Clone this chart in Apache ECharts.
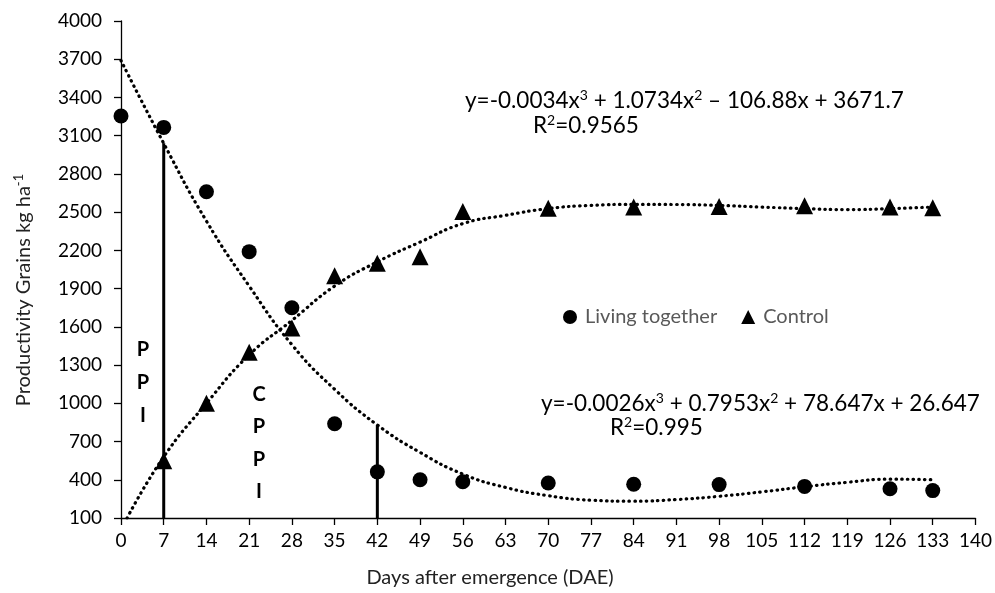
<!DOCTYPE html>
<html><head><meta charset="utf-8">
<script src="https://cdn.jsdelivr.net/npm/echarts@6/dist/echarts.min.js"></script>
<style>html,body{margin:0;padding:0;background:#fff}#c{width:995px;height:593px}</style>
</head><body><div id="c"></div>
<script>
// ---- data ----
const livingDays = [0,7,14,21,28,35,42,49,56,70,84,98,112,126,133];
const livingTogether = [3255,3165,2660,2190,1750,840,462,400,385,375,365,362,348,330,315];
const controlDays = [7,14,21,28,35,42,49,56,70,84,98,112,126,133];
const control = [550,1000,1400,1590,2000,2100,2150,2505,2530,2540,2545,2550,2540,2535];
// dotted trend curves
const trendLivingDays = [0,7,14,21,28,35,42,49,56,63,70,77,84,91,98,105,112,119,126,133];
const trendLiving = [3690,3040,2430,1920,1460,1110,830,615,445,340,275,240,232,245,270,305,345,380,405,400];
const trendControlDays = [1,7,14,21,28,35,42,49,56,63,70,77,84,91,98,105,112,119,126,133];
const trendControl = [100,580,1000,1380,1650,1920,2110,2265,2410,2475,2528,2553,2561,2560,2553,2540,2528,2520,2528,2540];
// PPI / CPPI limit lines
const ppiLineDays = [7,7];
const ppiLineVals = [100,3040];
const cppiLineDays = [42,42];
const cppiLineVals = [100,830];
// axes
const xMin = 0, xMax = 140, xStep = 7;
const yTicks = [100,400,700,1000,1300,1600,1900,2200,2500,2800,3100,3400,3700,4000];
const legendNames = ['Living together','Control'];

const zip = (a,b) => a.map((v,i)=>[v,b[i]]);
const FONT = 'Lato, "Open Sans", sans-serif';
const chart = echarts.init(document.getElementById('c'), null, {renderer:'canvas'});

const dotted = {color:'#000', width:3.2, type:[0.5,5.2], cap:'round'};
const supRich = (c) => ({s:{fontSize:14, fontFamily:FONT, fill:c, padding:[0,0,11,0]}});
const txt = (x,y,text,font,extra) => ({type:'text', x:x, y:y,
  style:Object.assign({text:text, font:font, fill:'#000', align:'left', verticalAlign:'middle',
    textAlign:'left', textVerticalAlign:'middle', rich:supRich('#000')}, extra||{})});

chart.setOption({
  animation:false,
  backgroundColor:'#fff',
  textStyle:{fontFamily:FONT},
  grid:{left:121, right:18, top:21, bottom:75, containLabel:false},
  legend:{
    left:558, top:302, itemGap:24, itemWidth:14, itemHeight:14,
    textStyle:{color:'#595959', fontSize:20, fontFamily:FONT, padding:[0,0,0,3]},
    data:[{name:legendNames[0], icon:'circle'},{name:legendNames[1], icon:'triangle'}]
  },
  xAxis:{
    type:'value', min:xMin, max:xMax, interval:xStep,
    axisLine:{lineStyle:{color:'#000', width:1.3}},
    axisTick:{show:true, length:7, lineStyle:{color:'#000', width:1.3}},
    axisLabel:{color:'#000', fontSize:19, fontFamily:FONT, margin:13},
    splitLine:{show:false}
  },
  yAxis:{
    type:'value', min:yTicks[0], max:yTicks[yTicks.length-1],
    axisLine:{show:true, lineStyle:{color:'#000', width:1.3}},
    axisTick:{show:true, length:7, customValues:yTicks, lineStyle:{color:'#000', width:1.3}},
    axisLabel:{color:'#000', fontSize:19, fontFamily:FONT, margin:19, customValues:yTicks,
      formatter:(v)=>String(v)},
    splitLine:{show:false}
  },
  graphic:[
    {type:'text', x:24, y:290, rotation:Math.PI/2,
     style:{text:'Productivity Grains kg ha{s|-1}', font:'20px '+FONT, fill:'#222',
       align:'center', verticalAlign:'middle', textAlign:'center', textVerticalAlign:'middle',
       rich:{s:{fontSize:13, fontFamily:FONT, fill:'#222', padding:[0,0,10,0]}}}},
    {type:'text', x:490, y:578,
     style:{text:'Days after emergence (DAE)', font:'20px '+FONT, fill:'#222',
       align:'center', verticalAlign:'middle', textAlign:'center', textVerticalAlign:'middle'}},
    txt(465, 101, 'y=-0.0034x{s|3} + 1.0734x{s|2} \u2013 106.88x + 3671.7', '22.5px '+FONT),
    txt(533, 126, 'R{s|2}=0.9565', '22.5px '+FONT),
    txt(541, 404, 'y=-0.0026x{s|3} + 0.7953x{s|2} + 78.647x + 26.647', '22.5px '+FONT),
    txt(610, 428, 'R{s|2}=0.995', '22.5px '+FONT),
    {type:'text', x:143, y:383,
     style:{text:'P\nP\nI', font:'bold 20px '+FONT, fill:'#000', lineHeight:33,
       align:'center', verticalAlign:'middle', textAlign:'center', textVerticalAlign:'middle'}},
    {type:'text', x:259, y:443,
     style:{text:'C\nP\nP\nI', font:'bold 20px '+FONT, fill:'#000', lineHeight:32.2,
       align:'center', verticalAlign:'middle', textAlign:'center', textVerticalAlign:'middle'}}
  ],
  series:[
    {name:'trendLiving', type:'line', data:zip(trendLivingDays, trendLiving), smooth:0.5,
     showSymbol:false, symbol:'none', lineStyle:dotted, z:2, silent:true},
    {name:'trendControl', type:'line', data:zip(trendControlDays, trendControl), smooth:0.5,
     showSymbol:false, symbol:'none', lineStyle:dotted, z:2, silent:true},
    {name:'ppi', type:'line', data:zip(ppiLineDays, ppiLineVals), symbol:'none',
     lineStyle:{color:'#000', width:3}, z:3, silent:true},
    {name:'cppi', type:'line', data:zip(cppiLineDays, cppiLineVals), symbol:'none',
     lineStyle:{color:'#000', width:3}, z:3, silent:true},
    {name:legendNames[0], type:'scatter', data:zip(livingDays, livingTogether), symbol:'circle',
     symbolSize:15, itemStyle:{color:'#000', opacity:1}, z:5},
    {name:legendNames[1], type:'scatter', data:zip(controlDays, control), symbol:'triangle',
     symbolSize:17, itemStyle:{color:'#000', opacity:1}, z:5}
  ]
});
</script>
</body></html>
